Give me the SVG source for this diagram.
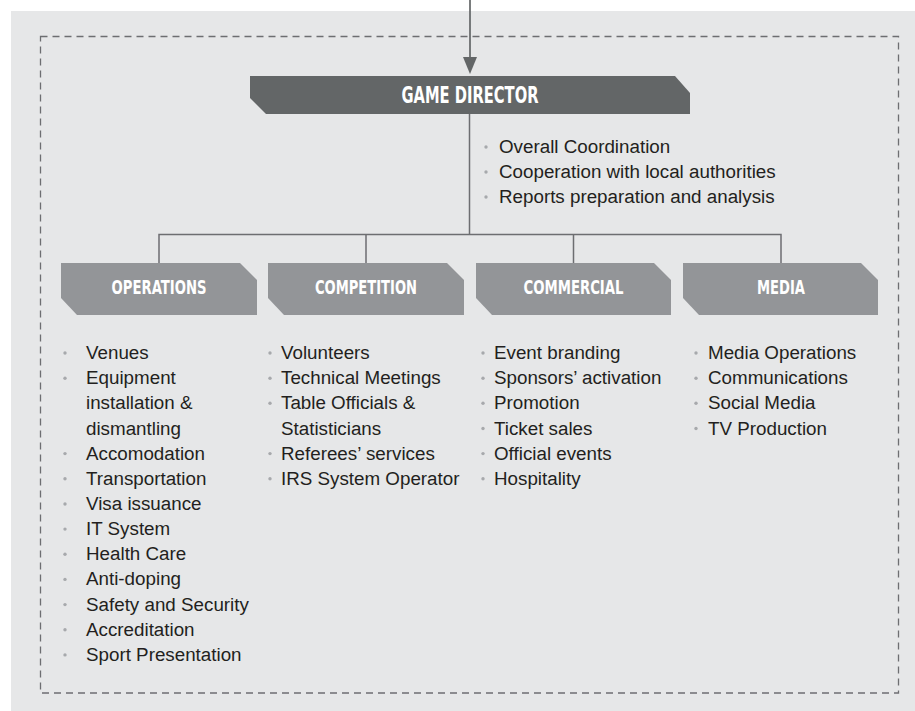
<svg xmlns="http://www.w3.org/2000/svg" width="915" height="711" viewBox="0 0 915 711">
<defs>
<style>
.bg{fill:#e6e7e8}
.frame{fill:none;stroke:#6d6e71;stroke-width:1.3;stroke-dasharray:7 5}
.conn{fill:none;stroke:#6d6e71;stroke-width:1.5}
.dir{fill:#636667}
.sub{fill:#939598}
.hd{font-family:"DejaVu Sans",sans-serif;font-stretch:condensed;font-weight:bold;fill:#ffffff;text-anchor:middle}
.li{font-family:"Liberation Sans",Arial,sans-serif;font-size:18.8px;fill:#231f20}
.dot{fill:#a7a9ac}
</style>
<marker id="arr" markerWidth="14" markerHeight="16" refX="7" refY="16" orient="auto-start-reverse" markerUnits="userSpaceOnUse" viewBox="0 0 14 16">
<path d="M0,0 L14,0 L7,16 Z" fill="#636667" transform="rotate(0)"/>
</marker>
</defs>
<rect class="bg" x="11" y="11" width="904" height="700"/>
<rect class="frame" x="40.5" y="36.5" width="858" height="656.5"/>

<g id="connectors">
<line x1="470" y1="0" x2="470" y2="58" stroke="#636667" stroke-width="1.7"/>
<path d="M463,57 L477,57 L470,74 Z" fill="#636667"/>
<path class="conn" d="M469.5,114 V234.5 M159,263 V234.5 H781 V263 M366,234.5 V263 M573.5,234.5 V263"/>
</g>

<g id="game-director">
<path class="dir" d="M250,76 H675 L690,93 V114 H266 L250,98 Z"/>
<text class="hd" x="470" y="103" font-size="23" textLength="137" lengthAdjust="spacingAndGlyphs">GAME DIRECTOR</text>
<circle class="dot" cx="486" cy="147" r="1.7"/>
<circle class="dot" cx="486" cy="172" r="1.7"/>
<circle class="dot" cx="486" cy="197" r="1.7"/>
<text class="li" x="499" y="153">Overall Coordination</text>
<text class="li" x="499" y="178">Cooperation with local authorities</text>
<text class="li" x="499" y="203">Reports preparation and analysis</text>
</g>

<g id="operations">
<path class="sub" d="M61,263 H240 L257,280 V315 H77 L61,298 Z"/>
<text class="hd" x="159" y="294" font-size="19" textLength="95" lengthAdjust="spacingAndGlyphs">OPERATIONS</text>
<g class="dot">
<circle cx="65" cy="353" r="1.7"/>
<circle cx="65" cy="378.2" r="1.7"/>
<circle cx="65" cy="453.6" r="1.7"/>
<circle cx="65" cy="478.8" r="1.7"/>
<circle cx="65" cy="504" r="1.7"/>
<circle cx="65" cy="529.1" r="1.7"/>
<circle cx="65" cy="554.3" r="1.7"/>
<circle cx="65" cy="579.4" r="1.7"/>
<circle cx="65" cy="604.6" r="1.7"/>
<circle cx="65" cy="629.7" r="1.7"/>
<circle cx="65" cy="654.9" r="1.7"/>
</g>
<text class="li" x="86" y="359">Venues</text>
<text class="li" x="86" y="384.2">Equipment</text>
<text class="li" x="86" y="409.3">installation &amp;</text>
<text class="li" x="86" y="434.5">dismantling</text>
<text class="li" x="86" y="459.6">Accomodation</text>
<text class="li" x="86" y="484.8">Transportation</text>
<text class="li" x="86" y="510">Visa issuance</text>
<text class="li" x="86" y="535.1">IT System</text>
<text class="li" x="86" y="560.3">Health Care</text>
<text class="li" x="86" y="585.4">Anti-doping</text>
<text class="li" x="86" y="610.6">Safety and Security</text>
<text class="li" x="86" y="635.7">Accreditation</text>
<text class="li" x="86" y="660.9">Sport Presentation</text>
</g>

<g id="competition">
<path class="sub" d="M268,263 H447 L464,280 V315 H284 L268,298 Z"/>
<text class="hd" x="366" y="294" font-size="19" textLength="102" lengthAdjust="spacingAndGlyphs">COMPETITION</text>
<g class="dot">
<circle cx="270" cy="353" r="1.7"/>
<circle cx="270" cy="378.2" r="1.7"/>
<circle cx="270" cy="403.3" r="1.7"/>
<circle cx="270" cy="453.6" r="1.7"/>
<circle cx="270" cy="478.8" r="1.7"/>
</g>
<text class="li" x="281" y="359">Volunteers</text>
<text class="li" x="281" y="384.2">Technical Meetings</text>
<text class="li" x="281" y="409.3">Table Officials &amp;</text>
<text class="li" x="281" y="434.5">Statisticians</text>
<text class="li" x="281" y="459.6">Referees’ services</text>
<text class="li" x="281" y="484.8">IRS System Operator</text>
</g>

<g id="commercial">
<path class="sub" d="M476,263 H654 L671,280 V315 H492 L476,298 Z"/>
<text class="hd" x="573.5" y="294" font-size="19" textLength="100" lengthAdjust="spacingAndGlyphs">COMMERCIAL</text>
<g class="dot">
<circle cx="483" cy="353" r="1.7"/>
<circle cx="483" cy="378.2" r="1.7"/>
<circle cx="483" cy="403.3" r="1.7"/>
<circle cx="483" cy="428.5" r="1.7"/>
<circle cx="483" cy="453.6" r="1.7"/>
<circle cx="483" cy="478.8" r="1.7"/>
</g>
<text class="li" x="494" y="359">Event branding</text>
<text class="li" x="494" y="384.2">Sponsors’ activation</text>
<text class="li" x="494" y="409.3">Promotion</text>
<text class="li" x="494" y="434.5">Ticket sales</text>
<text class="li" x="494" y="459.6">Official events</text>
<text class="li" x="494" y="484.8">Hospitality</text>
</g>

<g id="media">
<path class="sub" d="M683,263 H861 L878,280 V315 H699 L683,298 Z"/>
<text class="hd" x="781" y="294" font-size="19" textLength="48" lengthAdjust="spacingAndGlyphs">MEDIA</text>
<g class="dot">
<circle cx="696" cy="353" r="1.7"/>
<circle cx="696" cy="378.2" r="1.7"/>
<circle cx="696" cy="403.3" r="1.7"/>
<circle cx="696" cy="428.5" r="1.7"/>
</g>
<text class="li" x="708" y="359">Media Operations</text>
<text class="li" x="708" y="384.2">Communications</text>
<text class="li" x="708" y="409.3">Social Media</text>
<text class="li" x="708" y="434.5">TV Production</text>
</g>
</svg>
